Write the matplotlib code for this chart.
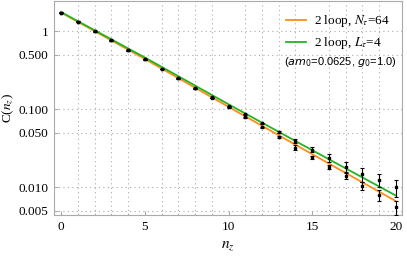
import numpy as np
import matplotlib
matplotlib.use("Agg")
import matplotlib.pyplot as plt
from matplotlib.ticker import FixedLocator, NullFormatter

plt.rcParams['font.family'] = ['Liberation Serif', 'DejaVu Serif']
plt.rcParams['mathtext.fontset'] = 'stix'

# data points (two sets)
n_z = np.arange(0, 21)
c_upper = [1.752, 1.343, 1.0, 0.767, 0.571, 0.4375, 0.326, 0.2496, 0.1858, 0.1425,
           0.1093, 0.0863, 0.0662, 0.0507, 0.0389, 0.0304, 0.0237, 0.0184, 0.0147,
           0.0125, 0.0100]
err_upper = [0.005, 0.004, 0.003, 0.002, 0.002, 0.0015, 0.001, 0.001, 0.001, 0.001,
             0.001, 0.001, 0.001, 0.0012, 0.0023, 0.0025, 0.0026, 0.0027, 0.0030,
             0.0024, 0.0025]
c_lower = [1.752, 1.343, 1.0, 0.767, 0.571, 0.4375, 0.326, 0.2496, 0.1858, 0.1404,
           0.1061, 0.0789, 0.0588, 0.0438, 0.0322, 0.0241, 0.0181, 0.0138, 0.0104,
           0.0079, 0.0055]
err_lower = [0.005, 0.004, 0.003, 0.002, 0.002, 0.0015, 0.001, 0.001, 0.001, 0.001,
             0.001, 0.001, 0.001, 0.001, 0.0024, 0.0012, 0.0011, 0.0012, 0.0013,
             0.0013, 0.0011]

# 2 loop curves
n_line = [0, 5, 10, 15, 20]
c_Ntau64 = [1.752, 0.444, 0.1076, 0.0265, 0.0066]
c_Ltau4 = [1.778, 0.464, 0.116, 0.0298, 0.00778]

yticks = [1, 0.5, 0.1, 0.05, 0.01, 0.005]
ytick_labels = ['1', '0.500', '0.100', '0.050', '0.010', '0.005']
xticks = [0, 5, 10, 15, 20]

fig = plt.figure(figsize=(4.07, 2.56), dpi=100)
ax = fig.add_axes([0.1327, 0.160, 0.855, 0.838])

frame_col = '#aaaaaa'
for s in ax.spines.values():
    s.set_color(frame_col)
    s.set_linewidth(0.8)

ax.plot(n_line, c_Ntau64, color='#ff8c1a', lw=1.3, label=r'2 loop, $N_\tau$=64', zorder=3)
ax.plot(n_line, c_Ltau4, color='#22b522', lw=1.3, label=r'2 loop, $L_\tau$=4', zorder=3)

for c, e in [(c_upper, err_upper), (c_lower, err_lower)]:
    ax.errorbar(n_z, c, yerr=e, fmt='s', color='black', ms=1.8, elinewidth=0.8,
                capsize=1.3, capthick=0.8, zorder=4)

ax.set_yscale('log')
ax.set_xlim(-0.42, 20.36)
ax.set_ylim(0.00438, 2.5)

ax.yaxis.set_major_locator(FixedLocator(yticks))
ax.set_yticklabels(ytick_labels)
ax.yaxis.set_minor_locator(FixedLocator([]))
ax.yaxis.set_minor_formatter(NullFormatter())
ax.set_xticks(xticks)
ax.xaxis.set_minor_locator(FixedLocator(np.arange(0, 21)))

ax.tick_params(axis='both', which='major', labelsize=9.5, length=3, color=frame_col,
               direction='in', pad=4)
ax.tick_params(axis='both', which='minor', length=1.5, color=frame_col, direction='in')

ax.grid(True, which='major', axis='y', ls=(0, (1, 3)), color='#aaaaaa', lw=0.8)
ax.grid(True, which='minor', axis='x', ls=(0, (1, 3)), color='#aaaaaa', lw=0.8)

ax.set_xlabel(r'$n_z$', fontsize=11)
ax.xaxis.set_label_coords(0.5, -0.11)
ax.set_ylabel(r'C($n_z$)', fontsize=9.5)
ax.yaxis.set_label_coords(-0.108, 0.5)

leg = ax.legend(loc='upper right', bbox_to_anchor=(1.0, 0.995), frameon=False,
                fontsize=9.5, handlelength=1.5, handletextpad=0.6, labelspacing=0.45)
ax.text(0.985, 0.713, r'($am_0$=0.0625, $g_0$=1.0)', transform=ax.transAxes,
        ha='right', va='center', fontsize=8, family=['Liberation Sans', 'DejaVu Sans'],
        math_fontfamily='dejavusans')

fig.savefig('out.png', dpi=100)
